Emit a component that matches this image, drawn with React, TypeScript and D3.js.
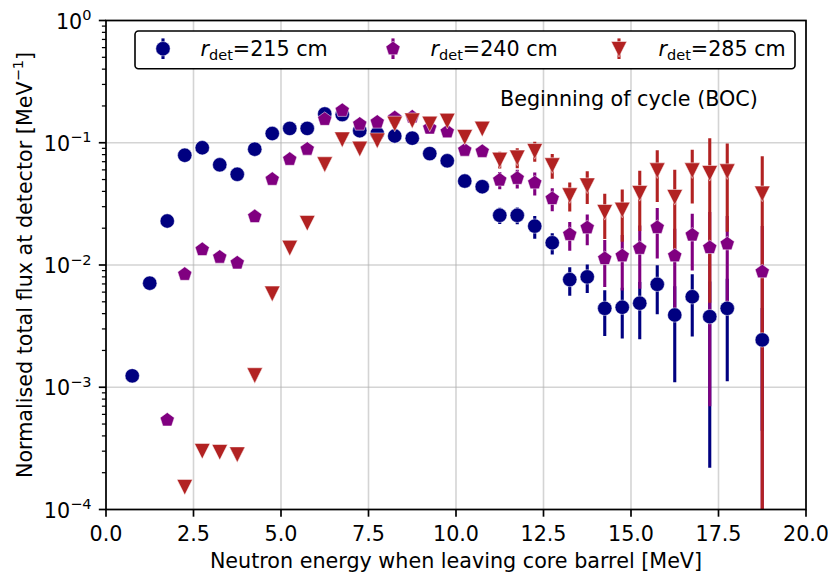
import React from "react";
import * as d3 from "d3";

// ---------- data ----------
const energyBlue = [0.75, 1.25, 1.75, 2.25, 2.75, 3.25, 3.75, 4.25, 4.75, 5.25, 5.75, 6.25, 6.75, 7.25, 7.75, 8.25, 8.75, 9.25, 9.75, 10.25, 10.75, 11.25, 11.75, 12.25, 12.75, 13.25, 13.75, 14.25, 14.75, 15.25, 15.75, 16.25, 16.75, 17.25, 17.75, 18.75];
const fluxBlue = [0.00124, 0.0071, 0.0229, 0.079, 0.091, 0.066, 0.0552, 0.0886, 0.119, 0.131, 0.131, 0.172, 0.17, 0.1255, 0.119, 0.1135, 0.109, 0.0815, 0.0712, 0.0486, 0.0437, 0.0255, 0.0255, 0.0208, 0.0152, 0.0076, 0.0080, 0.00442, 0.00451, 0.00487, 0.00695, 0.0039, 0.0055, 0.00378, 0.00442, 0.00244];
const errBlue = [0.00005, 0.0002, 0.0005, 0.0012, 0.0013, 0.0011, 0.001, 0.0014, 0.0017, 0.0018, 0.0018, 0.0022, 0.0022, 0.002, 0.002, 0.002, 0.002, 0.0018, 0.0018, 0.0016, 0.0017, 0.0039, 0.004, 0.0044, 0.003, 0.002, 0.0021, 0.0018, 0.002, 0.0024, 0.003, 0.0028, 0.0029, 0.00356, 0.0033, 0.002];

const energyPurple = [1.75, 2.25, 2.75, 3.25, 3.75, 4.25, 4.75, 5.25, 5.75, 6.25, 6.75, 7.25, 7.75, 8.25, 8.75, 9.25, 9.75, 10.25, 10.75, 11.25, 11.75, 12.25, 12.75, 13.25, 13.75, 14.25, 14.75, 15.25, 15.75, 16.25, 16.75, 17.25, 17.75, 18.75];
const fluxPurple = [0.00054, 0.0084, 0.0134, 0.0116, 0.0104, 0.0249, 0.0503, 0.0733, 0.0887, 0.1555, 0.184, 0.142, 0.1475, 0.16, 0.1625, 0.132, 0.123, 0.087, 0.085, 0.0496, 0.0512, 0.047, 0.035, 0.0178, 0.0202, 0.0113, 0.0119, 0.0137, 0.0203, 0.0119, 0.0176, 0.0139, 0.0149, 0.0088];
const errPurple = [0.00002, 0.0003, 0.0004, 0.0004, 0.0004, 0.0008, 0.0014, 0.0018, 0.002, 0.003, 0.0033, 0.003, 0.003, 0.0032, 0.0033, 0.003, 0.003, 0.0025, 0.0028, 0.008, 0.009, 0.01, 0.0075, 0.0047, 0.0057, 0.0047, 0.0057, 0.0073, 0.009, 0.0079, 0.0086, 0.0132, 0.0103, 0.012];

const energyRed = [2.25, 2.75, 3.25, 3.75, 4.25, 4.75, 5.25, 5.75, 6.25, 6.75, 7.25, 7.75, 8.25, 8.75, 9.25, 9.75, 10.25, 10.75, 11.25, 11.75, 12.25, 12.75, 13.25, 13.75, 14.25, 14.75, 15.25, 15.75, 16.25, 16.75, 17.25, 17.75, 18.75];
const fluxRed = [0.000154, 0.000303, 0.000297, 0.000284, 0.00126, 0.00587, 0.0139, 0.0222, 0.067, 0.107, 0.09, 0.105, 0.144, 0.153, 0.144, 0.152, 0.112, 0.131, 0.073, 0.076, 0.086, 0.0658, 0.0374, 0.045, 0.0273, 0.0285, 0.039, 0.0598, 0.0362, 0.0598, 0.0569, 0.0587, 0.0386];
const errRed = [0.00001, 0.00002, 0.00002, 0.00002, 0.00006, 0.0002, 0.0005, 0.0008, 0.002, 0.003, 0.0028, 0.003, 0.0035, 0.0037, 0.0037, 0.0045, 0.004, 0.0055, 0.0115, 0.014, 0.016, 0.015, 0.01, 0.0135, 0.011, 0.013, 0.02, 0.027, 0.024, 0.028, 0.052, 0.04, 0.039];

const seriesLabels = ["215 cm", "240 cm", "285 cm"];
const xTicks = [0, 2.5, 5, 7.5, 10, 12.5, 15, 17.5, 20];
const yTickExps = [0, -1, -2, -3, -4];

// ---------- layout ----------
const W = 828;
const H = 574;
const L = 106, R = 806, T = 20.5, B = 509.5;
const FONT = "DejaVu Sans, Verdana, sans-serif";
const FS = 20.7;
const SUP = 14.5;

const colors = ["#000080", "#800080", "#b22222"];

function circlePath(r: number) {
  return `M${r},0A${r},${r} 0 1,1 ${-r},0A${r},${r} 0 1,1 ${r},0Z`;
}
function pentagonPath(R0: number) {
  const pts = d3.range(5).map((i) => {
    const a = -Math.PI / 2 + (i * 2 * Math.PI) / 5;
    return [R0 * Math.cos(a), R0 * Math.sin(a)];
  });
  return "M" + pts.map((p) => p[0].toFixed(2) + "," + p[1].toFixed(2)).join("L") + "Z";
}
function triDownPath() {
  return "M0,8.4L-7.8,-7.2L7.8,-7.2Z";
}
const markerPaths = [circlePath(7.2), pentagonPath(7.45), triDownPath()];

export default function App() {
  const x = d3.scaleLinear().domain([0, 20]).range([L, R]);
  const y = d3.scaleLog().domain([1e-4, 1]).range([B, T]).clamp(true);

  const series = [
    { e: energyBlue, v: fluxBlue, err: errBlue },
    { e: energyPurple, v: fluxPurple, err: errPurple },
    { e: energyRed, v: fluxRed, err: errRed },
  ];

  const minorTicks: number[] = [];
  for (let k = -4; k < 0; k++) for (let m = 2; m <= 9; m++) minorTicks.push(m * Math.pow(10, k));

  const legendX = [163, 393, 619];
  const legendTextX = [200.5, 430.5, 658.5];
  const legendY = 48.7;

  return (
    <svg width={W} height={H} style={{ position: "absolute", left: 0, top: 0, background: "#fff" }} fontFamily={FONT}>
      <defs>
        <clipPath id="plotclip">
          <rect x={L} y={T} width={R - L} height={B - T} />
        </clipPath>
      </defs>
      <rect x={0} y={0} width={W} height={H} fill="#fff" />
      {/* grid */}
      <g stroke="#b0b0b0" strokeOpacity={0.55} strokeWidth={1.6}>
        {xTicks.map((t) => (
          <line key={"gx" + t} x1={x(t)} x2={x(t)} y1={T} y2={B} />
        ))}
        {yTickExps.map((k) => (
          <line key={"gy" + k} x1={L} x2={R} y1={y(Math.pow(10, k))} y2={y(Math.pow(10, k))} />
        ))}
      </g>
      {/* error bars */}
      <g clipPath="url(#plotclip)">
        {series.map((s, si) => (
          <g key={"eb" + si} stroke={colors[si]} strokeWidth={3.1}>
            {s.e.map((en, i) => {
              const hi = s.v[i] + s.err[i];
              const lo = Math.max(s.v[i] - s.err[i], 1e-6);
              return <line key={i} x1={x(en)} x2={x(en)} y1={y(hi)} y2={y(lo)} />;
            })}
          </g>
        ))}
      </g>
      {/* markers */}
      <g clipPath="url(#plotclip)">
        {series.map((s, si) => (
          <g key={"mk" + si} fill={colors[si]} stroke="#fff" strokeWidth={0.5}>
            {s.e.map((en, i) => (
              <path key={i} d={markerPaths[si]} transform={`translate(${x(en)},${y(s.v[i])})`} />
            ))}
          </g>
        ))}
      </g>
      {/* spines */}
      <rect x={L} y={T} width={R - L} height={B - T} fill="none" stroke="#000" strokeWidth={1.7} />
      {/* x ticks */}
      <g>
        {xTicks.map((t) => (
          <g key={"xt" + t}>
            <line x1={x(t)} x2={x(t)} y1={B} y2={B + 7.2} stroke="#000" strokeWidth={1.7} />
            <text x={x(t)} y={541} textAnchor="middle" fontSize={FS}>
              {t.toFixed(1)}
            </text>
          </g>
        ))}
      </g>
      {/* y ticks */}
      <g>
        {yTickExps.map((k) => {
          const yy = y(Math.pow(10, k));
          return (
            <g key={"yt" + k}>
              <line x1={L - 7.2} x2={L} y1={yy} y2={yy} stroke="#000" strokeWidth={1.7} />
              <text x={91.5} y={yy + 8} textAnchor="end" fontSize={FS}>
                10
                <tspan dy={-8.5} fontSize={SUP}>
                  {k === 0 ? "0" : "\u2212" + Math.abs(k)}
                </tspan>
              </text>
            </g>
          );
        })}
        {minorTicks.map((m, i) => (
          <line key={"mt" + i} x1={L - 4.1} x2={L} y1={y(m)} y2={y(m)} stroke="#000" strokeWidth={1.25} />
        ))}
      </g>
      {/* axis labels */}
      <text x={(L + R) / 2} y={568} textAnchor="middle" fontSize={FS}>
        Neutron energy when leaving core barrel [MeV]
      </text>
      <text transform={`translate(31.5,${(T + B) / 2}) rotate(-90)`} textAnchor="middle" fontSize={FS}>
        Normalised total flux at detector [MeV
        <tspan dy={-8.5} fontSize={SUP}>
          {"\u22121"}
        </tspan>
        <tspan dy={8.5}>]</tspan>
      </text>
      {/* annotation */}
      <text x={500} y={106} fontSize={FS}>
        Beginning of cycle (BOC)
      </text>
      {/* legend */}
      <rect x={135} y={31} width={660} height={37.7} rx={3.5} fill="#fff" stroke="#000" strokeWidth={1.6} />
      {seriesLabels.map((lab, si) => (
        <g key={"lg" + si}>
          <line x1={legendX[si]} x2={legendX[si]} y1={legendY - 10.3} y2={legendY + 10.3} stroke={colors[si]} strokeWidth={3.1} />
          <path d={markerPaths[si]} transform={`translate(${legendX[si]},${legendY})`} fill={colors[si]} stroke="#fff" strokeWidth={0.5} />
          <text x={legendTextX[si]} y={55.7} fontSize={FS}>
            <tspan fontStyle="italic">r</tspan>
            <tspan dy={4} fontSize={SUP}>
              det
            </tspan>
            <tspan dy={-4}>={lab}</tspan>
          </text>
        </g>
      ))}
    </svg>
  );
}
